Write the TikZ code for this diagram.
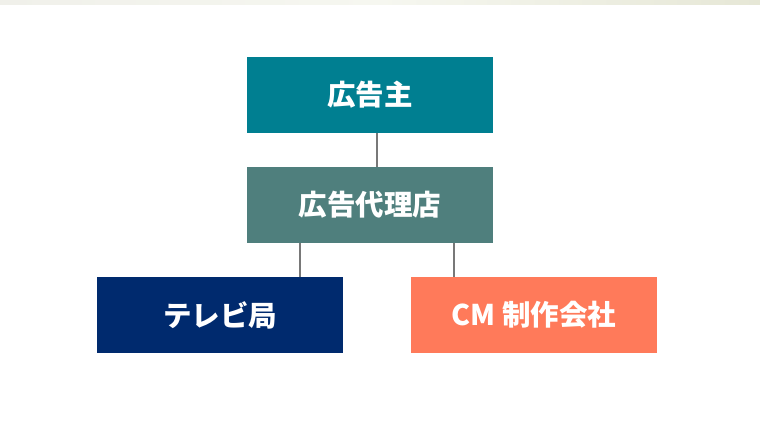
\documentclass[tikz,border=0pt]{standalone}
\usepackage{fontspec}
\setmainfont{Noto Sans CJK JP}
\usepackage{tikz}
\definecolor{sponsorteal}{RGB}{0,127,145}
\definecolor{agencygreen}{RGB}{79,127,125}
\definecolor{tvnavy}{RGB}{0,42,110}
\definecolor{cmcoral}{RGB}{255,122,90}
\definecolor{linkgray}{RGB}{120,120,120}
\definecolor{stripleft}{RGB}{240,240,234}
\definecolor{stripmid}{RGB}{246,247,240}
\definecolor{stripright}{RGB}{230,231,214}
\tikzset{
    org/.style={draw=none, rectangle, minimum width=246, minimum height=76, inner sep=0pt,
        text=white, font=\fontsize{28.5}{32}\selectfont\bfseries},
    link/.style={draw=linkgray, line width=2}
}
\begin{document}
\begin{tikzpicture}[x=1pt, y=-1pt]
          \useasboundingbox (0,0) rectangle (760,428);
          \fill[white] (0,0) rectangle (760,428);
          \shade[left color=stripleft, right color=stripright, middle color=stripmid] (0,0) rectangle (760,5);

          \path
              (370,95) node[org, fill=sponsorteal] (sponsor) {広告主}
              (370,205) node[org, fill=agencygreen] (agency) {広告代理店}
              (220,315) node[org, fill=tvnavy] (tv) {テレビ局}
              (534,315) node[org, fill=cmcoral] (cm) {CM 制作会社};

          \draw[link] (sponsor.south -| 377,0) -- (agency.north -| 377,0);
          \draw[link] (agency.south -| tv.north east) ++(-43,0) coordinate (tv-top) -- (tv-top |- tv.north);
          \draw[link] (agency.south -| cm.north west) ++(43,0) coordinate (cm-top) -- (cm-top |- cm.north);
\end{tikzpicture}
\end{document}
